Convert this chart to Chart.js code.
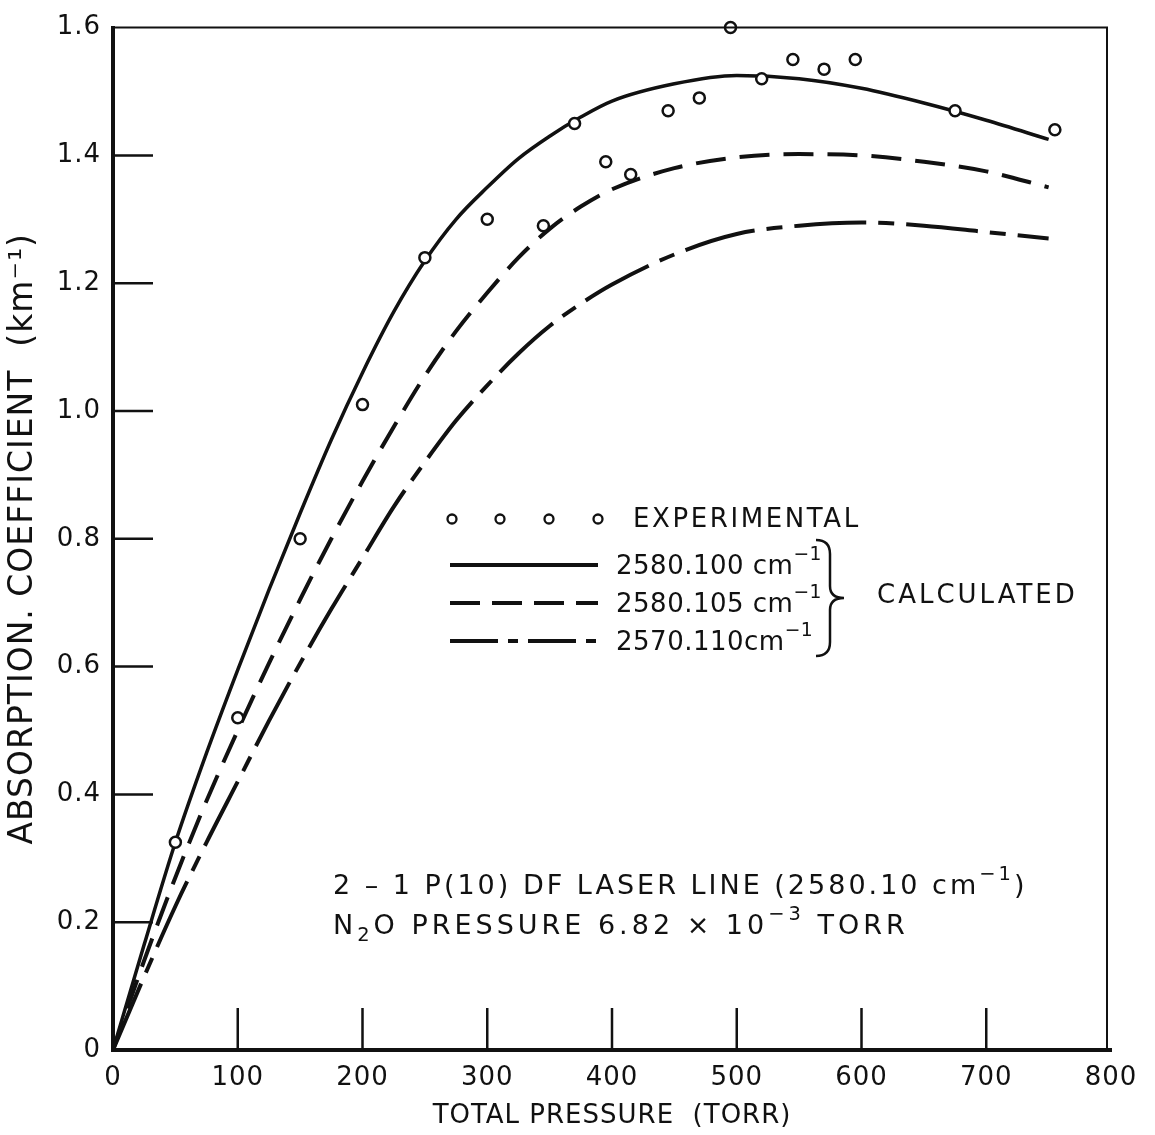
<!DOCTYPE html>
<html>
<head>
<meta charset="utf-8">
<script src="https://cdn.jsdelivr.net/npm/chart.js@4.4.0/dist/chart.umd.min.js"></script>
<style>
  body { margin: 0; background: #fff; }
  canvas { display: block; }
</style>
</head>
<body>
<canvas id="chart-canvas" width="1155" height="1135"></canvas>
<script>
// experimental points (torr, km^-1)
let pressureExp = [50, 100, 150, 200, 250, 300, 345, 370, 395, 415, 445, 470, 495, 520, 545, 570, 595, 675, 755];
let absorptionExp = [0.325, 0.52, 0.80, 1.01, 1.24, 1.30, 1.29, 1.45, 1.39, 1.37, 1.47, 1.49, 1.60, 1.52, 1.55, 1.535, 1.55, 1.47, 1.44];

// calculated curves
let pressureCalc = [0, 25, 50, 75, 100, 125, 150, 175, 200, 225, 250, 275, 300, 325, 350, 375, 400, 450, 500, 550, 600, 650, 700, 750];
let calc2580100 = [0, 0.165, 0.325, 0.465, 0.595, 0.72, 0.84, 0.955, 1.06, 1.155, 1.235, 1.30, 1.35, 1.395, 1.43, 1.46, 1.485, 1.512, 1.525, 1.52, 1.505, 1.482, 1.455, 1.425];
let calc2580105 = [0, 0.14, 0.27, 0.39, 0.50, 0.605, 0.705, 0.80, 0.89, 0.975, 1.055, 1.125, 1.185, 1.24, 1.285, 1.32, 1.347, 1.38, 1.397, 1.402, 1.40, 1.39, 1.375, 1.35];
let calc2570110 = [0, 0.115, 0.225, 0.325, 0.42, 0.515, 0.605, 0.69, 0.77, 0.85, 0.92, 0.985, 1.04, 1.09, 1.133, 1.168, 1.198, 1.245, 1.277, 1.29, 1.295, 1.29, 1.28, 1.27];

// axis ticks
let xTicks = [0, 100, 200, 300, 400, 500, 600, 700, 800];
let yTicks = [0, 0.2, 0.4, 0.6, 0.8, 1.0, 1.2, 1.4, 1.6];

// ^{..} raised, _{..} lowered
let legendLabels = ["EXPERIMENTAL", "2580.100 cm^{\u22121}", "2580.105 cm^{\u22121}", "2570.110cm^{\u22121}"];
let calcLabel = "CALCULATED";
let noteLines = ["2 \u2013 1 P(10) DF LASER LINE (2580.10 cm^{\u22121})", "N_{2}O PRESSURE 6.82 \u00D7 10^{\u22123} TORR"];

let ink = "#111";
let fontFamily = "'DejaVu Sans', sans-serif";
let dashLong = [30, 14];
let dashDot = [72, 12, 16, 12];

function pairs(xs, ys) {
  return xs.map(function (x, i) {
    return { x: x, y: ys[i] };
  });
}

// text with super/subscripts, left aligned, middle baseline
function richText(ctx, str, x, y, size, spacing) {
  let parts = str.split(/(\^\{[^}]*\}|_\{[^}]*\})/);
  parts.forEach(function (p) {
    if (!p) return;
    let s = size;
    let dy = 0;
    if (p[0] === "^") { s = size * 0.72; dy = -size * 0.45; p = p.slice(2, -1); }
    else if (p[0] === "_") { s = size * 0.72; dy = size * 0.35; p = p.slice(2, -1); }
    ctx.font = s + "px " + fontFamily;
    ctx.letterSpacing = spacing + "px";
    ctx.fillText(p, x, y + dy);
    x += ctx.measureText(p).width;
  });
}

// right hand curly brace
function brace(ctx, x, top, bottom, w) {
  let mid = (top + bottom) / 2;
  ctx.beginPath();
  ctx.moveTo(x, top);
  ctx.quadraticCurveTo(x + w, top, x + w, top + 14);
  ctx.lineTo(x + w, mid - 12);
  ctx.quadraticCurveTo(x + w, mid, x + w * 2, mid);
  ctx.quadraticCurveTo(x + w, mid, x + w, mid + 12);
  ctx.lineTo(x + w, bottom - 14);
  ctx.quadraticCurveTo(x + w, bottom, x, bottom);
  ctx.stroke();
}

// frame, inner ticks, legend, note
let paperPlugin = {
  id: "paper",
  beforeDraw: function (chart) {
    chart.ctx.letterSpacing = "1px";
  },
  afterDraw: function (chart) {
    let ctx = chart.ctx;
    let area = chart.chartArea;
    let xs = chart.scales.x;
    let ys = chart.scales.y;
    ctx.save();
    ctx.strokeStyle = ink;
    ctx.fillStyle = ink;

    ctx.lineWidth = 2;
    ctx.beginPath();
    ctx.moveTo(area.left, area.top);
    ctx.lineTo(area.right - 4, area.top);
    ctx.lineTo(area.right - 4, area.bottom);
    ctx.stroke();

    ctx.lineWidth = 2.5;
    ctx.beginPath();
    xTicks.slice(1, -1).forEach(function (v) {
      let px = xs.getPixelForValue(v);
      ctx.moveTo(px, area.bottom);
      ctx.lineTo(px, area.bottom - 42);
    });
    yTicks.slice(1, -1).forEach(function (v) {
      let py = ys.getPixelForValue(v);
      ctx.moveTo(area.left, py);
      ctx.lineTo(area.left + 40, py);
    });
    ctx.stroke();

    // legend
    ctx.textBaseline = "middle";
    ctx.lineWidth = 2.3;
    [452, 500, 549, 598].forEach(function (cx) {
      ctx.beginPath();
      ctx.arc(cx, 519, 4.5, 0, Math.PI * 2);
      ctx.stroke();
    });
    richText(ctx, legendLabels[0], 633, 520, 26, 2.6);

    let rows = [[565, []], [603, [30, 12]], [641, [48, 10, 10, 10]]];
    ctx.lineWidth = 4;
    rows.forEach(function (r, i) {
      ctx.setLineDash(r[1]);
      ctx.beginPath();
      ctx.moveTo(450, r[0]);
      ctx.lineTo(598, r[0]);
      ctx.stroke();
      ctx.setLineDash([]);
      richText(ctx, legendLabels[i + 1], 616, r[0] + 2, 26, 0.5);
    });
    ctx.lineWidth = 2.5;
    brace(ctx, 816, 540, 656, 14);
    richText(ctx, calcLabel, 877, 596, 26, 3);

    // note
    richText(ctx, noteLines[0], 333, 887, 27, 3);
    richText(ctx, noteLines[1], 333, 927, 27, 4);
    ctx.restore();
  }
};

let chart = document.getElementById("chart-canvas").getContext("2d");

let chart1 = new Chart(chart, {
  type: "scatter",
  data: {
    datasets: [
      {
        label: "EXPERIMENTAL",
        data: pairs(pressureExp, absorptionExp),
        pointRadius: 5.5,
        pointBorderWidth: 2.5,
        pointBorderColor: ink,
        pointBackgroundColor: "#fff",
        clip: false,
      },
      {
        label: "2580.100",
        data: pairs(pressureCalc, calc2580100),
        showLine: true,
        borderColor: ink,
        borderWidth: 3.5,
        pointRadius: 0,
        cubicInterpolationMode: "monotone",
      },
      {
        label: "2580.105",
        data: pairs(pressureCalc, calc2580105),
        showLine: true,
        borderColor: ink,
        borderWidth: 4,
        borderDash: dashLong,
        pointRadius: 0,
        cubicInterpolationMode: "monotone",
      },
      {
        label: "2570.110",
        data: pairs(pressureCalc, calc2570110),
        showLine: true,
        borderColor: ink,
        borderWidth: 4,
        borderDash: dashDot,
        pointRadius: 0,
        cubicInterpolationMode: "monotone",
      },
    ],
  },
  options: {
    responsive: false,
    animation: false,
    layout: { padding: { top: 24, right: 44, left: 0, bottom: 0 } },
    plugins: {
      legend: { display: false },
      tooltip: { enabled: false },
    },
    scales: {
      x: {
        type: "linear",
        min: 0,
        max: 800,
        afterFit: function (scale) {
          scale.height = 85;
        },
        afterBuildTicks: function (scale) {
          scale.ticks = xTicks.map(function (v) { return { value: v }; });
        },
        grid: { display: false, drawTicks: false },
        border: { display: true, color: ink, width: 4 },
        ticks: {
          color: ink,
          padding: 13,
          maxRotation: 0,
          font: { family: fontFamily, size: 26 },
        },
        title: {
          display: true,
          text: "TOTAL PRESSURE  (TORR)",
          color: ink,
          padding: { top: 0, bottom: 3 },
          font: { family: fontFamily, size: 26 },
        },
      },
      y: {
        type: "linear",
        min: 0,
        max: 1.6,
        afterFit: function (scale) {
          scale.width = 113;
        },
        afterBuildTicks: function (scale) {
          scale.ticks = yTicks.map(function (v) { return { value: v }; });
        },
        grid: { display: false, drawTicks: false },
        border: { display: true, color: ink, width: 4 },
        ticks: {
          color: ink,
          padding: 12,
          font: { family: fontFamily, size: 26 },
          callback: function (v) {
            return v === 0 ? "0" : v.toFixed(1);
          },
        },
        title: {
          display: true,
          text: "ABSORPTION. COEFFICIENT  (km\u207B\u00B9)",
          color: ink,
          padding: { top: 4, bottom: 0 },
          font: { family: fontFamily, size: 33 },
        },
      },
    },
  },
  plugins: [paperPlugin],
});
</script>
</body>
</html>
